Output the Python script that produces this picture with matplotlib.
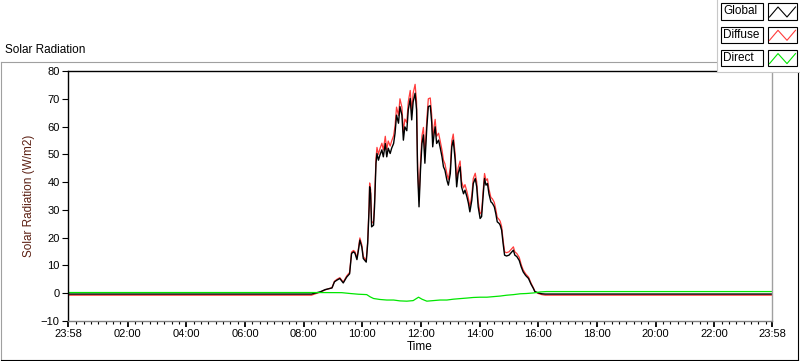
import matplotlib.pyplot as plt
from matplotlib.lines import Line2D
from matplotlib.patches import Rectangle
from matplotlib.ticker import FixedLocator

plt.rcParams['font.family'] = ['Liberation Sans', 'DejaVu Sans']

# minutes after midnight (-2 = 23:58 of the day before, 1438 = 23:58)
t_min = [-2, 496, 514, 524, 538, 543, 548, 554, 561, 568, 574, 578, 582, 585, 589, 592,
         595, 599, 602, 608, 611, 614, 615, 617, 619, 623, 625, 628, 630, 633, 636, 640,
         643, 647, 650, 653, 657, 660, 664, 667, 670, 674, 677, 681, 684, 687, 691, 694,
         698, 701, 704, 708, 711, 713, 716, 719, 722, 725, 728, 732, 735, 739, 742, 744,
         747, 749, 752, 756, 759, 763, 766, 769, 773, 776, 780, 783, 786, 790, 793, 796,
         800, 803, 807, 810, 814, 817, 820, 824, 827, 831, 834, 837, 841, 844, 848, 850,
         853, 856, 859, 863, 866, 870, 873, 876, 880, 882, 885, 888, 891, 895, 900, 906,
         909, 912, 916, 921, 925, 929, 934, 940, 945, 950, 953, 960, 967, 974, 1438]

global_wm2 = [-0.3, -0.3, 0.5, 1.3, 1.9, 4.1, 4.7, 5.3, 3.7, 5.8, 7.0, 14.3, 14.9, 14.4, 12.1, 15.4,
              19.1, 16.6, 12.5, 11.2, 17.9, 31.1, 38.3, 35.8, 23.9, 24.5, 31.1, 46.8, 50.3, 47.9, 49.7, 51.6,
              49.1, 53.9, 49.1, 52.2, 50.3, 52.2, 53.9, 57.6, 64.1, 61.2, 67.2, 64.1, 55.1, 59.9, 58.5, 66.0,
              70.1, 62.4, 68.9, 72.0, 66.0, 44.3, 31.1, 44.3, 53.9, 57.0, 46.8, 59.9, 67.2, 67.5, 61.4, 52.7,
              57.6, 59.9, 53.9, 55.1, 52.7, 49.1, 45.5, 44.3, 40.7, 38.9, 43.1, 52.7, 55.1, 47.9, 38.3, 43.1,
              45.5, 38.3, 35.8, 37.1, 34.7, 32.4, 29.3, 33.5, 39.5, 41.3, 38.3, 31.1, 26.9, 27.6, 37.1, 41.3,
              38.9, 39.5, 35.8, 32.9, 32.4, 31.1, 28.7, 25.7, 25.1, 24.5, 22.7, 17.9, 13.7, 13.4, 13.7, 14.9,
              15.5, 13.7, 13.2, 11.8, 9.5, 7.7, 6.4, 5.3, 3.3, 1.7, 0.6, 0.1, -0.2, -0.3, -0.3]

diffuse_wm2 = [-0.7, -0.7, 0.4, 1.2, 2.0, 4.3, 5.0, 5.6, 4.0, 6.2, 7.5, 14.8, 15.4, 14.9, 12.7, 16.0,
               19.9, 17.4, 13.2, 11.8, 18.8, 32.3, 39.7, 37.3, 25.2, 25.9, 32.7, 48.7, 52.5, 50.0, 52.0, 54.0,
               51.6, 56.5, 51.7, 54.8, 53.0, 54.8, 56.7, 60.3, 67.0, 64.0, 70.0, 67.0, 57.9, 62.7, 61.4, 68.9,
               73.0, 65.3, 72.0, 75.2, 68.9, 47.0, 33.6, 47.0, 56.7, 59.7, 49.4, 62.7, 70.0, 70.3, 64.1, 55.3,
               60.2, 62.6, 56.5, 57.6, 55.1, 51.5, 47.9, 46.6, 43.0, 41.0, 45.2, 54.8, 57.3, 49.9, 40.3, 45.1,
               47.6, 40.3, 37.9, 39.1, 36.6, 34.2, 31.1, 35.3, 41.3, 43.2, 40.1, 32.9, 28.6, 29.2, 38.8, 43.1,
               40.6, 41.2, 37.5, 34.5, 34.0, 32.7, 30.2, 27.3, 26.5, 25.9, 24.0, 19.1, 14.9, 14.6, 14.9, 16.1,
               16.7, 14.9, 14.3, 12.9, 10.3, 8.4, 7.0, 5.8, 3.7, 1.9, 0.6, -0.1, -0.5, -0.7, -0.7]

direct_min = [-2, 496, 558, 575, 592, 609, 616, 623, 636, 650, 664, 677, 691, 704, 715, 722, 732,
              745, 759, 773, 786, 800, 814, 827, 841, 855, 868, 882, 895, 909, 923, 936, 950,
              964, 977, 1438]
direct_wm2 = [0.25, 0.25, 0.2, -0.1, -0.36, -0.5, -1.3, -1.9, -2.25, -2.45, -2.45, -2.76, -2.86,
              -2.66, -1.43, -2.15, -2.86, -2.66, -2.45, -2.45, -2.15, -1.94, -1.74, -1.53, -1.43,
              -1.43, -1.23, -1.02, -0.72, -0.51, -0.2, -0.1, 0.1, 0.46, 0.6, 0.6]

tick_hours = [-2 / 60, 2, 4, 6, 8, 10, 12, 14, 16, 18, 20, 22, 1438 / 60]
tick_labels = ["23:58", "02:00", "04:00", "06:00", "08:00", "10:00", "12:00",
               "14:00", "16:00", "18:00", "20:00", "22:00", "23:58"]
y_ticks = [-10, 0, 10, 20, 30, 40, 50, 60, 70, 80]

series_names = ["Global", "Diffuse", "Direct"]
series_colors = ["black", "#ff3b3b", "#00e600"]

W, H = 800, 361


def fx(x):
    return x / W


def fy(y):
    return 1 - y / H


fig = plt.figure(figsize=(8, 3.61), dpi=100)
fig.patch.set_facecolor("white")

# outer panel frame (light top/left, dark bottom/right)
fig.add_artist(Line2D([fx(0.5), fx(0.5)], [fy(61.5), fy(359.5)], color="#a0a0a0", lw=0.8,
                      transform=fig.transFigure))
fig.add_artist(Line2D([fx(0.5), fx(797.5)], [fy(61.5), fy(61.5)], color="#a0a0a0", lw=0.8,
                      transform=fig.transFigure))
fig.add_artist(Line2D([fx(0.5), fx(797.5)], [fy(359.5), fy(359.5)], color="black", lw=0.8,
                      transform=fig.transFigure))
fig.add_artist(Line2D([fx(797.5), fx(797.5)], [fy(61.5), fy(359.5)], color="black", lw=0.8,
                      transform=fig.transFigure))

fig.text(fx(5), fy(50), "Solar Radiation", fontsize=8.5, va="center", ha="left")

ax = fig.add_axes([fx(68), fy(321), fx(772) - fx(68), fy(71) - fy(321)])

t_h = [m / 60 for m in t_min]
ax.plot(t_h, diffuse_wm2, color=series_colors[1], lw=0.9)
ax.plot(t_h, global_wm2, color=series_colors[0], lw=1.0)
ax.plot([m / 60 for m in direct_min], direct_wm2, color=series_colors[2], lw=0.9)

ax.set_xlim(-2 / 60, 1438 / 60)
ax.set_ylim(-10, 80)
ax.set_xticks(tick_hours)
ax.set_xticklabels(tick_labels)
ax.xaxis.set_minor_locator(FixedLocator([q * 0.25 for q in range(1, 96)]))
ax.set_yticks(y_ticks)
ax.tick_params(axis="both", labelsize=8, direction="out", color="black", pad=2)
ax.tick_params(axis="x", which="major", length=4, width=1.3)
ax.tick_params(axis="x", which="minor", length=2, width=0.8)
ax.tick_params(axis="y", length=4, width=0.8)

ax.spines["top"].set_color("black")
ax.spines["left"].set_color("black")
ax.spines["bottom"].set_color("#808080")
ax.spines["right"].set_color("#a0a0a0")
for s in ax.spines.values():
    s.set_linewidth(1.0)

ax.set_xlabel("Time", fontsize=8.5, labelpad=1)
ax.set_ylabel("Solar Radiation (W/m2)", fontsize=8.5, color="#5b1f12", labelpad=4)

# legend panel, top right
fig.add_artist(Rectangle((fx(716.5), fy(72)), fx(800) - fx(716.5), fy(0) - fy(72),
                         facecolor="white", edgecolor="none", transform=fig.transFigure, zorder=5))
fig.add_artist(Line2D([fx(716.5), fx(716.5)], [fy(0), fy(71.5)], color="#c8c8c8", lw=0.8,
                      transform=fig.transFigure, zorder=6))
fig.add_artist(Line2D([fx(716.5), fx(800)], [fy(71.5), fy(71.5)], color="#c8c8c8", lw=0.8,
                      transform=fig.transFigure, zorder=6))

for i, (name, col) in enumerate(zip(series_names, series_colors)):
    top = 3.5 + i * 23.3
    fig.add_artist(Rectangle((fx(721), fy(top + 16)), fx(763) - fx(721), fy(top) - fy(top + 16),
                             facecolor="white", edgecolor="black", lw=0.8,
                             transform=fig.transFigure, zorder=7))
    fig.text(fx(723), fy(top + 8), name, fontsize=8.5, va="center", ha="left", zorder=8)
    fig.add_artist(Rectangle((fx(767.5), fy(top + 16)), fx(797) - fx(767.5), fy(top) - fy(top + 16),
                             facecolor="white", edgecolor="black", lw=0.8,
                             transform=fig.transFigure, zorder=7))
    fig.add_artist(Line2D([fx(769.5), fx(778), fx(787), fx(795.5)],
                          [fy(top + 13.5), fy(top + 3.5), fy(top + 13.5), fy(top + 3.5)],
                          color=col, lw=0.8, transform=fig.transFigure, zorder=8))

fig.savefig("out.png", dpi=100)
